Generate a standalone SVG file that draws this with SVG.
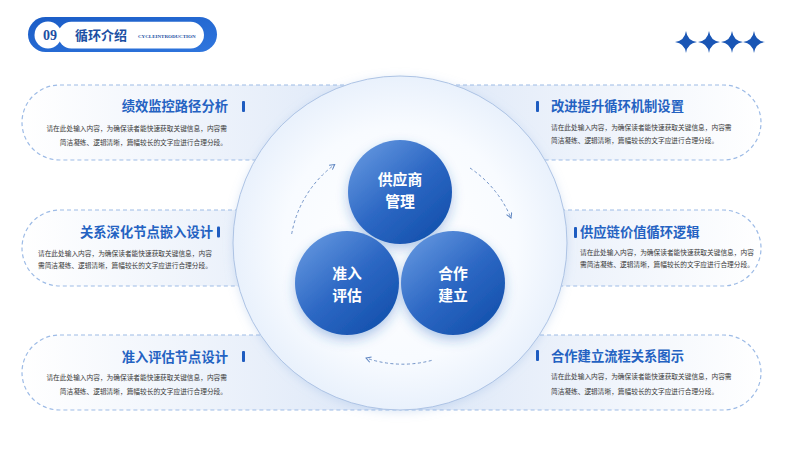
<svg xmlns="http://www.w3.org/2000/svg" width="800" height="450" viewBox="0 0 800 450">
<defs>
<linearGradient id="gHead" x1="0" y1="0" x2="1" y2="1"><stop offset="0" stop-color="#1a5cc6"/><stop offset="1" stop-color="#2f76de"/></linearGradient>
<linearGradient id="gCardL" x1="0" y1="0" x2="1" y2="0"><stop offset="0" stop-color="#ffffff"/><stop offset="1" stop-color="#dbe6f7"/></linearGradient>
<linearGradient id="gCardR" x1="1" y1="0" x2="0" y2="0"><stop offset="0" stop-color="#ffffff"/><stop offset="1" stop-color="#dbe6f7"/></linearGradient>
<radialGradient id="gBig" cx="0.5" cy="0.5" r="0.5"><stop offset="0" stop-color="#ffffff"/><stop offset="0.7" stop-color="#f8fbff"/><stop offset="1" stop-color="#e9f1fc"/></radialGradient>
<linearGradient id="gBall" x1="0.15" y1="0.1" x2="0.85" y2="0.9"><stop offset="0" stop-color="#5d91dc"/><stop offset="0.5" stop-color="#2d68c4"/><stop offset="1" stop-color="#1552ae"/></linearGradient>
<filter id="fShadow" x="-40%" y="-40%" width="180%" height="180%"><feDropShadow dx="0" dy="5" stdDeviation="6" flood-color="#2e66c0" flood-opacity="0.35"/></filter>
<filter id="fGlow" x="-20%" y="-20%" width="140%" height="140%"><feDropShadow dx="0" dy="2" stdDeviation="5" flood-color="#8fb0e0" flood-opacity="0.3"/></filter>
<marker id="arr" viewBox="0 0 10 10" refX="8" refY="5" markerWidth="7" markerHeight="7" orient="auto" markerUnits="userSpaceOnUse"><path d="M1,1 L8,5 L1,9" fill="none" stroke="#5a82c0" stroke-width="1.4"/></marker>
<style>
.card{stroke:none}
.dash{fill:none;stroke:#9dbbe6;stroke-width:1.2;stroke-dasharray:4 3}
.title{font-family:"Noto Sans CJK SC","Noto Sans",sans-serif;font-weight:700;font-size:13.3px;fill:#2462c2}
.body{font-family:"Noto Sans CJK SC","Noto Sans",sans-serif;font-size:6.7px;fill:#3a3a3a}
.bar{fill:#1e5cc0}
.ball{font-family:"Noto Sans CJK SC","Noto Sans",sans-serif;font-weight:700;font-size:14.8px;fill:#ffffff;text-anchor:middle}
.star{fill:#1a56b5}
.flow{fill:none;stroke:#7394c8;stroke-width:1;stroke-dasharray:3 2.5}
</style>
</defs>
<rect width="800" height="450" fill="#ffffff"/>

<g id="header">
<rect x="28" y="17" width="189" height="35" rx="17.5" fill="url(#gHead)"/>
<circle cx="48" cy="35" r="13.5" fill="#ffffff"/>
<rect x="58" y="21.8" width="146" height="26.6" rx="13.3" fill="#ffffff"/>
<text x="50" y="40" text-anchor="middle" font-family="Liberation Serif,serif" font-weight="700" font-size="14" fill="#1b4fa3">09</text>
<text x="75" y="40" font-family="Noto Sans CJK SC,sans-serif" font-weight="700" font-size="13" fill="#1b4fa3">循环介绍</text>
<text x="138" y="38" font-family="Liberation Serif,serif" font-weight="700" font-size="5" fill="#1b4fa3">CYCLEINTRODUCTION</text>
</g>

<g id="stars">
<path class="star" d="M686,31 Q687.3,40.7 697,42 Q687.3,43.3 686,53 Q684.7,43.3 675,42 Q684.7,40.7 686,31Z"/>
<path class="star" d="M709,31 Q710.3,40.7 720,42 Q710.3,43.3 709,53 Q707.7,43.3 698,42 Q707.7,40.7 709,31Z"/>
<path class="star" d="M732,31 Q733.3,40.7 743,42 Q733.3,43.3 732,53 Q730.7,43.3 721,42 Q730.7,40.7 732,31Z"/>
<path class="star" d="M754,31 Q755.3,40.7 765,42 Q755.3,43.3 754,53 Q752.7,43.3 743,42 Q752.7,40.7 754,31Z"/>
</g>

<g id="card-tl">
<path class="card" fill="url(#gCardL)" d="M400,85 H59.5 A37.5,37.5 0 0 0 59.5,160 H400 Z"/>
<path class="dash" d="M400,85 H59.5 A37.5,37.5 0 0 0 59.5,160 H400"/>
</g>
<g id="card-ml">
<path class="card" fill="url(#gCardL)" d="M400,210 H60 A38,38 0 0 0 60,286 H400 Z"/>
<path class="dash" d="M400,210 H60 A38,38 0 0 0 60,286 H400"/>
</g>
<g id="card-bl">
<path class="card" fill="url(#gCardL)" d="M400,335 H59.5 A37.5,37.5 0 0 0 59.5,410 H400 Z"/>
<path class="dash" d="M400,335 H59.5 A37.5,37.5 0 0 0 59.5,410 H400"/>
</g>
<g id="card-tr">
<path class="card" fill="url(#gCardR)" d="M400,85 H723.5 A37.5,37.5 0 0 1 723.5,160 H400 Z"/>
<path class="dash" d="M400,85 H723.5 A37.5,37.5 0 0 1 723.5,160 H400"/>
</g>
<g id="card-mr">
<path class="card" fill="url(#gCardR)" d="M400,210 H723 A38,38 0 0 1 723,286 H400 Z"/>
<path class="dash" d="M400,210 H723 A38,38 0 0 1 723,286 H400"/>
</g>
<g id="card-br">
<path class="card" fill="url(#gCardR)" d="M400,335 H723.5 A37.5,37.5 0 0 1 723.5,410 H400 Z"/>
<path class="dash" d="M400,335 H723.5 A37.5,37.5 0 0 1 723.5,410 H400"/>
</g>

<g id="big-circle">
<circle cx="400" cy="243" r="167" fill="url(#gBig)" stroke="#adc3e4" stroke-width="1" filter="url(#fGlow)"/>
</g>

<g id="text-tl">
<text class="title" x="228" y="111" text-anchor="end">绩效监控路径分析</text>
<rect class="bar" x="242" y="101" width="3" height="11" rx="1"/>
<text class="body" x="227" y="130.5" text-anchor="end">请在此处输入内容，为确保读者能快速获取关键信息，内容需</text>
<text class="body" x="227" y="144.5" text-anchor="end">简洁凝练、逻辑清晰，篇幅较长的文字应进行合理分段。</text>
</g>
<g id="text-ml">
<text class="title" x="213" y="237" text-anchor="end">关系深化节点嵌入设计</text>
<rect class="bar" x="217" y="226.5" width="3" height="11" rx="1"/>
<text class="body" x="38" y="255.5">请在此处输入内容，为确保读者能快速获取关键信息，内容</text>
<text class="body" x="38" y="267.5">需简洁凝练、逻辑清晰，篇幅较长的文字应进行合理分段。</text>
</g>
<g id="text-bl">
<text class="title" x="228" y="362" text-anchor="end">准入评估节点设计</text>
<rect class="bar" x="242" y="351" width="3" height="11" rx="1"/>
<text class="body" x="227" y="379.5" text-anchor="end">请在此处输入内容，为确保读者能快速获取关键信息，内容需</text>
<text class="body" x="227" y="393.5" text-anchor="end">简洁凝练、逻辑清晰，篇幅较长的文字应进行合理分段。</text>
</g>
<g id="text-tr">
<rect class="bar" x="536" y="101" width="3" height="11" rx="1"/>
<text class="title" x="551" y="111">改进提升循环机制设置</text>
<text class="body" x="551" y="129.5">请在此处输入内容，为确保读者能快速获取关键信息，内容需</text>
<text class="body" x="551" y="142.5">简洁凝练、逻辑清晰，篇幅较长的文字应进行合理分段。</text>
</g>
<g id="text-mr">
<rect class="bar" x="574" y="227" width="3" height="11" rx="1"/>
<text class="title" x="580" y="237">供应链价值循环逻辑</text>
<text class="body" x="580" y="255">请在此处输入内容，为确保读者能快速获取关键信息，内容</text>
<text class="body" x="580" y="267">需简洁凝练、逻辑清晰，篇幅较长的文字应进行合理分段。</text>
</g>
<g id="text-br">
<rect class="bar" x="536" y="350" width="3" height="11" rx="1"/>
<text class="title" x="551" y="361">合作建立流程关系图示</text>
<text class="body" x="551" y="379">请在此处输入内容，为确保读者能快速获取关键信息，内容需</text>
<text class="body" x="551" y="393.5">简洁凝练、逻辑清晰，篇幅较长的文字应进行合理分段。</text>
</g>

<g id="connectors">
<path class="flow" d="M291.7,233.9 A110,110 0 0 1 334.7,164.5" marker-end="url(#arr)"/>
<path class="flow" d="M470,168 A112,112 0 0 1 511,218" marker-end="url(#arr)"/>
<path class="flow" d="M431.6,360.4 A112,112 0 0 1 366,358" marker-end="url(#arr)"/>
</g>

<g id="node-supplier">
<circle cx="400" cy="192" r="52" fill="url(#gBall)" filter="url(#fShadow)"/>
<text class="ball" x="400" y="185.2">供应商</text>
<text class="ball" x="400" y="206.8">管理</text>
</g>
<g id="node-access">
<circle cx="347" cy="283" r="52" fill="url(#gBall)" filter="url(#fShadow)"/>
<text class="ball" x="347" y="279">准入</text>
<text class="ball" x="347" y="300.6">评估</text>
</g>
<g id="node-coop">
<circle cx="453" cy="283" r="52" fill="url(#gBall)" filter="url(#fShadow)"/>
<text class="ball" x="453" y="279">合作</text>
<text class="ball" x="453" y="300.6">建立</text>
</g>
</svg>
